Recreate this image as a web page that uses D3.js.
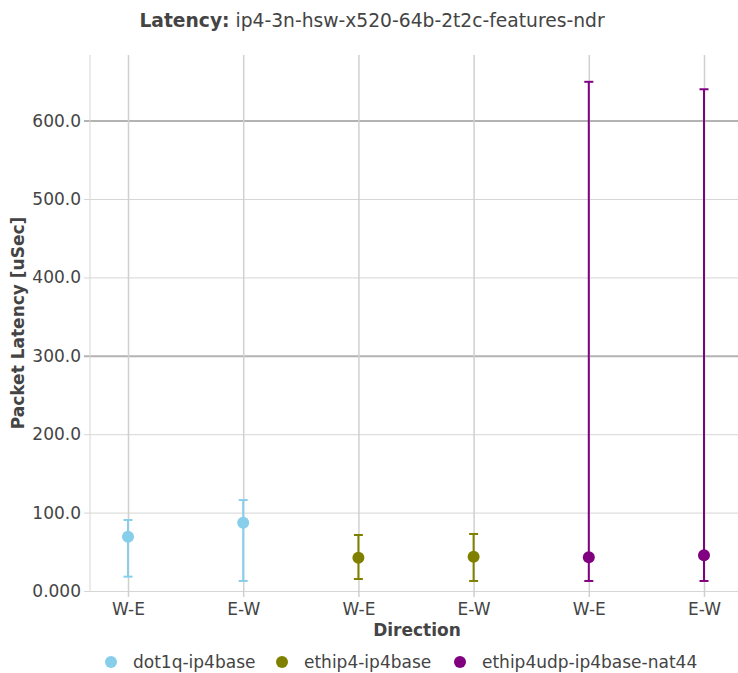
<!DOCTYPE html>
<html>
<head>
<meta charset="utf-8">
<script src="https://cdn.jsdelivr.net/npm/d3@7"></script>
<style>
  html, body { margin: 0; padding: 0; background: #fff; }
  svg { display: block; font-family: "DejaVu Sans", sans-serif; }
</style>
</head>
<body>
<svg id="chart" width="738" height="673"></svg>
<script>
// ---- data ----
const categories = ["W-E", "E-W", "W-E", "E-W", "W-E", "E-W"];
const seriesNames = ["dot1q-ip4base", "ethip4-ip4base", "ethip4udp-ip4base-nat44"];
const seriesColors = ["#87ceeb", "#808000", "#800080"];
const seriesPositions = [[0, 1], [2, 3], [4, 5]];
const seriesAvg = [[69.3, 87.1], [42.5, 43.8], [43.0, 45.5]];
const seriesMin = [[18.3, 12.8], [15.3, 12.8], [12.8, 12.8]];
const seriesMax = [[90.6, 116.0], [71.4, 72.7], [649.5, 640.0]];
const yTicks = [0, 100, 200, 300, 400, 500, 600];
const yTickLabels = ["0.000", "100.0", "200.0", "300.0", "400.0", "500.0", "600.0"];
const yMax = 683.7;

// ---- layout ----
const svg = d3.select("#chart");
const plot = { left: 90, right: 738, top: 55, bottom: 591 };

const x = d3.scalePoint().domain(d3.range(categories.length)).range([128, 704]);
const y = d3.scaleLinear().domain([0, yMax]).range([plot.bottom, plot.top]);

// horizontal gridlines
const yAxis = d3.axisLeft(y).tickValues(yTicks)
  .tickFormat((d, i) => yTickLabels[i])
  .tickSize(-(plot.right - plot.left)).tickPadding(9);
const gy = svg.append("g").attr("transform", `translate(${plot.left},0)`).call(yAxis);
gy.select(".domain").remove();
gy.selectAll(".tick line")
  .attr("x1", -6)
  .attr("stroke", d => (d === 300 || d === 600) ? "#b3b3b3" : "#d6d6d6")
  .attr("stroke-width", d => (d === 300 || d === 600) ? 2 : 1);
gy.selectAll(".tick text").attr("fill", "#444").style("font-size", "17px")
  .style("font-family", "DejaVu Sans, sans-serif");

// left edge line
svg.append("line").attr("x1", plot.left).attr("x2", plot.left)
  .attr("y1", plot.top).attr("y2", plot.bottom)
  .attr("stroke", "#d6d6d6").attr("stroke-width", 1);

// vertical gridlines + x ticks
const xAxis = d3.axisBottom(x).tickFormat(i => categories[i])
  .tickSize(-(plot.bottom - plot.top)).tickPadding(12);
const gx = svg.append("g").attr("transform", `translate(0,${plot.bottom})`).call(xAxis);
gx.select(".domain").remove();
gx.selectAll(".tick line").attr("y1", 6).attr("stroke", "#d0d0d0").attr("stroke-width", 1.5);
gx.selectAll(".tick text").attr("fill", "#444").style("font-size", "17px")
  .style("font-family", "DejaVu Sans, sans-serif");

// error bars and points
seriesNames.forEach((name, s) => {
  const g = svg.append("g");
  const color = seriesColors[s];
  const pts = seriesPositions[s].map((p, j) => ({
    p, avg: seriesAvg[s][j], lo: seriesMin[s][j], hi: seriesMax[s][j]
  }));
  g.selectAll("line.err").data(pts).enter().append("line")
    .attr("x1", d => x(d.p)).attr("x2", d => x(d.p))
    .attr("y1", d => y(d.lo)).attr("y2", d => y(d.hi))
    .attr("stroke", color).attr("stroke-width", 2);
  ["lo", "hi"].forEach(k => {
    g.selectAll("line.cap" + k).data(pts).enter().append("line")
      .attr("x1", d => x(d.p) - 4.5).attr("x2", d => x(d.p) + 4.5)
      .attr("y1", d => y(d[k])).attr("y2", d => y(d[k]))
      .attr("stroke", color).attr("stroke-width", 2);
  });
  g.selectAll("circle").data(pts).enter().append("circle")
    .attr("cx", d => x(d.p)).attr("cy", d => y(d.avg)).attr("r", 6)
    .attr("fill", color);
});

// title
const title = svg.append("text").attr("x", 372).attr("y", 27)
  .attr("text-anchor", "middle").attr("fill", "#444").style("font-size", "18.7px");
title.append("tspan").attr("font-weight", "bold").text("Latency:");
title.append("tspan").text(" ip4-3n-hsw-x520-64b-2t2c-features-ndr");

// axis titles
svg.append("text").attr("x", 417).attr("y", 636).attr("text-anchor", "middle")
  .attr("fill", "#444").attr("font-weight", "bold").style("font-size", "17px").text("Direction");
svg.append("text").attr("transform", "translate(24,323) rotate(-90)")
  .attr("text-anchor", "middle").attr("fill", "#444").attr("font-weight", "bold")
  .style("font-size", "17px").text("Packet Latency [uSec]");

// legend
const legendX = [111, 282, 460];
const lg = svg.append("g");
seriesNames.forEach((name, s) => {
  lg.append("circle").attr("cx", legendX[s]).attr("cy", 662).attr("r", 6).attr("fill", seriesColors[s]);
  lg.append("text").attr("x", legendX[s] + 22).attr("y", 668).attr("fill", "#444")
    .style("font-size", "17px").text(name);
});
</script>
</body>
</html>
